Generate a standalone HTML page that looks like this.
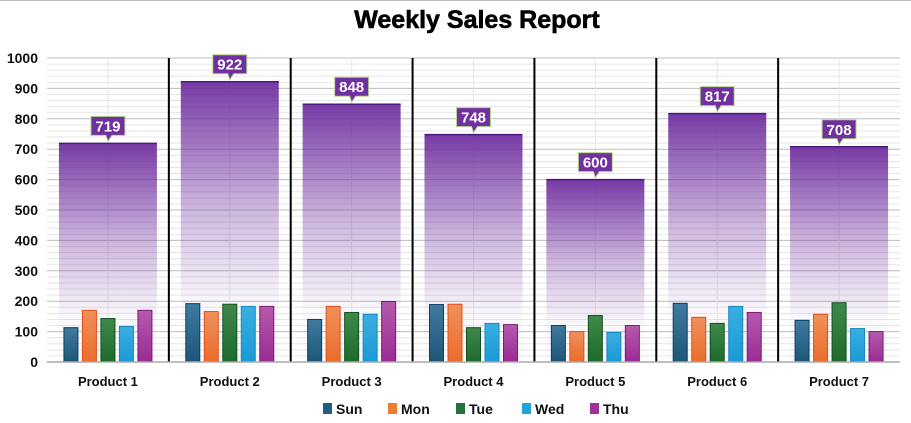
<!DOCTYPE html>
<html><head><meta charset="utf-8"><style>
html,body{margin:0;padding:0;background:#fff;width:911px;height:423px;overflow:hidden;font-family:"Liberation Sans",Arial,sans-serif;}
svg text{font-family:"Liberation Sans",Arial,sans-serif;font-weight:bold;}
</style></head><body>
<svg id="chart" width="911" height="423" xmlns="http://www.w3.org/2000/svg">
<defs>
<linearGradient id="totalGrad" x1="0" y1="0" x2="0" y2="1">
<stop offset="0" stop-color="#7030a0" stop-opacity="0.95"/>
<stop offset="0.45" stop-color="#7030a0" stop-opacity="0.35"/>
<stop offset="0.8" stop-color="#7030a0" stop-opacity="0.03"/>
<stop offset="1" stop-color="#7030a0" stop-opacity="0.02"/>
</linearGradient>
<linearGradient id="gSun" x1="0" y1="0" x2="0" y2="1"><stop offset="0" stop-color="#3f7aa0"/><stop offset="1" stop-color="#1d5677"/></linearGradient>
<linearGradient id="gMon" x1="0" y1="0" x2="0" y2="1"><stop offset="0" stop-color="#f0905a"/><stop offset="1" stop-color="#ea6d2c"/></linearGradient>
<linearGradient id="gTue" x1="0" y1="0" x2="0" y2="1"><stop offset="0" stop-color="#3f8a4a"/><stop offset="1" stop-color="#1d6a2a"/></linearGradient>
<linearGradient id="gWed" x1="0" y1="0" x2="0" y2="1"><stop offset="0" stop-color="#3aaee0"/><stop offset="1" stop-color="#1a9ad6"/></linearGradient>
<linearGradient id="gThu" x1="0" y1="0" x2="0" y2="1"><stop offset="0" stop-color="#b55aad"/><stop offset="1" stop-color="#9a2b94"/></linearGradient>
</defs>
<line x1="0" y1="0.5" x2="911" y2="0.5" stroke="#bbb"/>
<text x="477" y="28" text-anchor="middle" font-size="25" fill="#000" stroke="#000" stroke-width="0.6">Weekly Sales Report</text>
<g id="grid"></g><g id="bars"></g><g id="axes"></g><g id="legend"></g>
</svg>
<script>
const categories = ["Product 1","Product 2","Product 3","Product 4","Product 5","Product 6","Product 7"];
const totals = [719,922,848,748,600,817,708];
const sun = [113,192,140,189,120,193,137];
const mon = [170,166,183,190,100,147,157];
const tue = [143,190,163,113,153,127,195];
const wed = [117,183,157,127,97,183,110];
const thu = [170,183,199,123,120,163,100];
const seriesNames = ["Sun","Mon","Tue","Wed","Thu"];
const yTicks = [0,100,200,300,400,500,600,700,800,900,1000];

const NS="http://www.w3.org/2000/svg";
const X0=47, X1=900, Y0=362, Y1=58, YMAX=1000;
const bw=(X1-X0)/categories.length;
const y=v=>Y0-(v/YMAX)*(Y0-Y1);
const xc=i=>X0+bw*(i+0.5);
function mk(tag,attrs,parent){const e=document.createElementNS(NS,tag);for(const k in attrs)e.setAttribute(k,attrs[k]);parent.appendChild(e);return e;}
const grid=document.getElementById('grid'),bars=document.getElementById('bars'),axes=document.getElementById('axes'),legend=document.getElementById('legend');
for(let v=0;v<=YMAX;v+=20){
  const l=mk('line',{x1:X0,x2:X1,y1:y(v),y2:y(v),stroke:v%100===0?'#bdbdbd':'#e6e6e6','stroke-width':1},grid);
  
  
}
categories.forEach((c,i)=>{
  const l=mk('line',{x1:xc(i),x2:xc(i),y1:Y1,y2:Y0,stroke:'#e6e6e6'},grid);
  
  
});
yTicks.forEach(v=>{
  const t=mk('text',{x:38,y:y(v)+5,'text-anchor':'end','font-size':14,fill:'#111'},axes);
  t.textContent=v;
  
  
});
for(let i=1;i<categories.length;i++){
  const l=mk('line',{x1:X0+bw*i,x2:X0+bw*i,y1:Y1,y2:Y0,stroke:'#000','stroke-width':2},axes);
  
  
}
const s=[sun,mon,tue,wed,thu];
const fills=['url(#gSun)','url(#gMon)','url(#gTue)','url(#gWed)','url(#gThu)'];
const strokes=['#0f3d5e','#e0501a','#10501c','#1a88c0','#7a1a78'];
const legendColors=['#1f5f86','#ed7d31','#23743a','#21a3dc','#a0329a'];
categories.forEach((c,i)=>{
  const tw=98, tx=xc(i)-tw/2, ty=y(totals[i]);
  const r=mk('rect',{x:tx,y:ty,width:tw,height:Y0-ty,fill:'url(#totalGrad)'},bars);
  
  
  const tl=mk('line',{x1:tx,x2:tx+tw,y1:ty,y2:ty,stroke:'#4a1a80','stroke-width':1.5},bars);
  
  
  const lbw=34,lbh=19,lx=xc(i)-lbw/2,ly=ty-27;
  const p=mk('path',{d:`M${lx},${ly}h${lbw}v${lbh}h-13l-4,6l-2,-6h-${lbw-19}z`,fill:'#7030a0',stroke:'#b5d98a','stroke-width':1},bars);
  
  
  const t=mk('text',{x:xc(i),y:ly+15,'text-anchor':'middle','font-size':15,fill:'#fff'},bars);
  t.textContent=totals[i];
  
  
  s.forEach((arr,k)=>{
    const bx=xc(i)-44+k*18.5, by=y(arr[i]);
    const b=mk('rect',{x:bx,y:by,width:14,height:Y0-by,fill:fills[k],stroke:strokes[k],'stroke-width':1},bars);
    
    
  });
  const ct=mk('text',{x:xc(i),y:386,'text-anchor':'middle','font-size':13,fill:'#111'},axes);
  ct.textContent=c;
  
  
});
const base=mk('line',{x1:X0,x2:X1,y1:Y0,y2:Y0,stroke:'#aaa','stroke-width':1.5},axes);


const lx=[323,388,456,522,590];
seriesNames.forEach((n,k)=>{
  const r=mk('rect',{x:lx[k],y:403,width:9,height:11,fill:legendColors[k]},legend);
  
  
  const t=mk('text',{x:lx[k]+13,y:414,'font-size':14,fill:'#111'},legend);
  t.textContent=n;
  
  
});
</script>
</body></html>
